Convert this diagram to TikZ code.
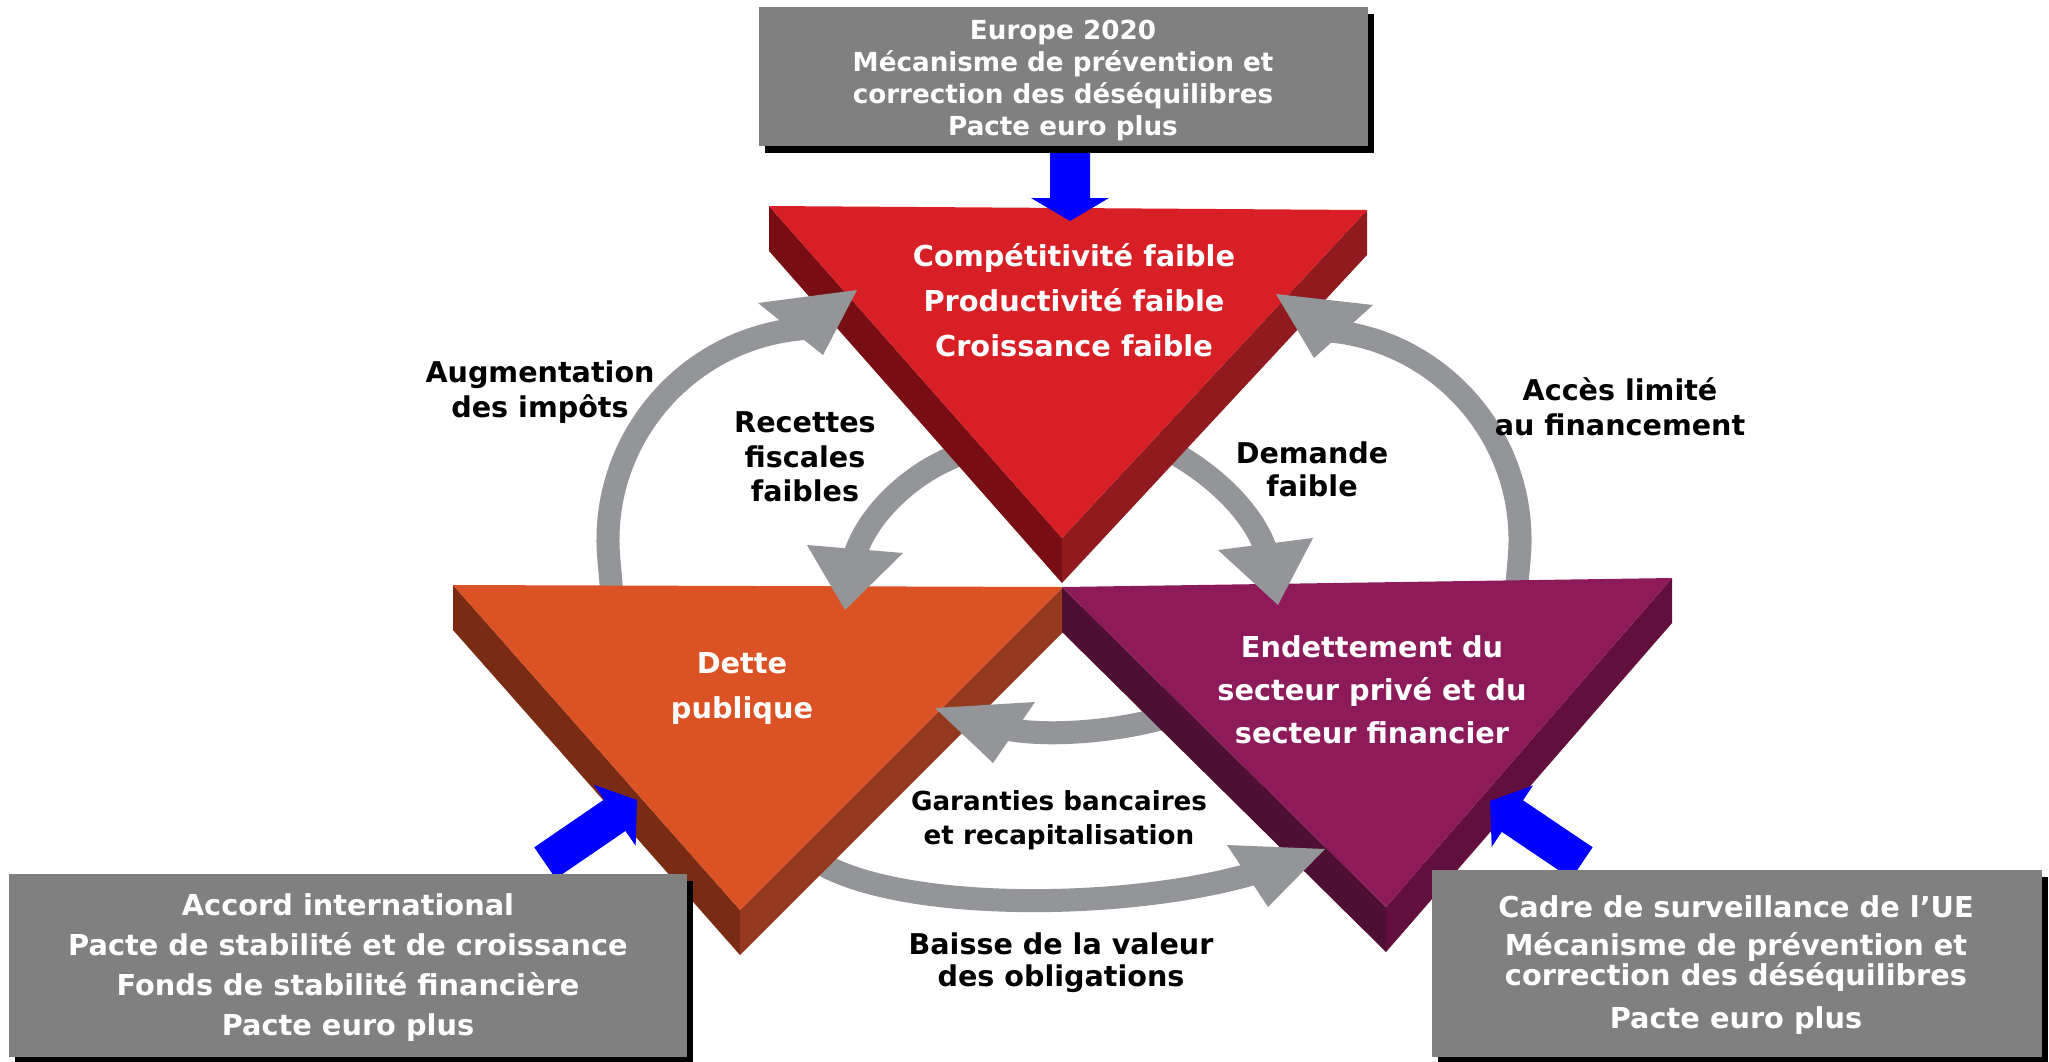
\documentclass[tikz,border=0pt]{standalone}
\usepackage{fontspec}
\setmainfont{DejaVu Sans}
\usetikzlibrary{calc,shadows}
\definecolor{redF}{HTML}{D91F26}
\definecolor{redL}{HTML}{780E13}
\definecolor{redR}{HTML}{911A1E}
\definecolor{orF}{HTML}{DB5325}
\definecolor{orL}{HTML}{7A2B14}
\definecolor{orR}{HTML}{94391E}
\definecolor{puF}{HTML}{8E1B59}
\definecolor{puL}{HTML}{4F0F32}
\definecolor{puR}{HTML}{630F3D}
\definecolor{arrgray}{HTML}{939598}
\definecolor{boxgray}{HTML}{808080}
\definecolor{arrblue}{HTML}{0000FF}

\newcommand{\prismtri}[6]{%
  \fill[#4] (#1) -- (#3) -- ($(#3)+(0,45)$) -- ($(#1)+(0,45)$) -- cycle;
  \fill[#5] (#2) -- (#3) -- ($(#3)+(0,45)$) -- ($(#2)+(0,45)$) -- cycle;
  \fill[#6] (#1) -- (#2) -- (#3) -- cycle;
}
\newcommand{\bluearrow}[5]{%
  \path ($(#2)!#5!(#1)$) coordinate (#2-base);
  \fill[arrblue] ($(#1)!#3!90:(#2)$) -- ($(#2-base)!#3!90:(#2)$) -- ($(#2-base)!#4!90:(#2)$) -- (#2)
     -- ($(#2-base)!#4!-90:(#2)$) -- ($(#2-base)!#3!-90:(#2)$) -- ($(#1)!#3!-90:(#2)$) -- cycle;
}

\begin{document}
\begin{tikzpicture}[x=1pt,y=-1pt,
  shaft/.style={draw=arrgray,line width=23pt},
  ghead/.style={fill=arrgray},
  tritext/.style={text=white,font=\bfseries\fontsize{28.8}{45}\selectfont,align=center,inner sep=0pt},
  lbl/.style={text=black,align=center,inner sep=0pt},
  gbox/.style={fill=boxgray,inner sep=0pt,anchor=north west,
    drop shadow={shadow xshift=6pt,shadow yshift=-7pt,fill=black,opacity=1}},
  boxtext/.style={text=white,align=center,inner sep=0pt},
]
\useasboundingbox (0,0) rectangle (2049,1061);
\fill[white] (0,0) rectangle (2049,1061);

% triangle corners
\coordinate (rTL) at (769,206); \coordinate (rTR) at (1367,210); \coordinate (rA) at (1062,538);
\coordinate (oTL) at (453,585); \coordinate (oTR) at (1063,587); \coordinate (oA) at (740,910);
\coordinate (pTL) at (1062,587); \coordinate (pTR) at (1672,578); \coordinate (pA) at (1386,907);

% gray arrow shafts (under the triangles)
\coordinate (a1s) at (612.3,598.3); \coordinate (a1e) at (812.6,328.1);
\draw[shaft] (a1s) -- (608.8,558.5) .. controls (598.2,437.5) and (691.2,332.4) .. (a1e);
\coordinate (a2s) at (1515.7,598.1); \coordinate (a2e) at (1317.3,330.1);
\draw[shaft] (a2s) -- (1519.2,558.3) .. controls (1529.7,438.5) and (1437.5,334.3) .. (a2e);
\coordinate (a3s) at (967,450); \coordinate (a3e) at (852,567);
\draw[shaft] (a3s) -- (949,459) .. controls (905,478) and (859.3,522.6) .. (a3e);
\coordinate (a4s) at (1162,446); \coordinate (a4e) at (1269.3,562.3);
\draw[shaft] (a4s) -- (1179,456) .. controls (1217.7,479) and (1260.3,518.2) .. (a4e);
\coordinate (a5s) at (1170,716); \coordinate (a5e) at (990.3,725.2);
\draw[shaft] (a5s) .. controls (1122.5,731) and (1038,740) .. (a5e);
\coordinate (a6s) at (815,860); \coordinate (a6e) at (1270.8,867.9);
\draw[shaft] (a6s) .. controls (900,915) and (1148,910.7) .. (a6e);

% triangles
\prismtri{oTL}{oTR}{oA}{orL}{orR}{orF}
\prismtri{pTL}{pTR}{pA}{puL}{puR}{puF}
\prismtri{rTL}{rTR}{rA}{redL}{redR}{redF}

% gray arrow heads
\fill[ghead] (857,290) -- (758,303) -- (823,355) -- cycle;
\fill[ghead] (1276,294) -- (1373,305) -- (1314,358) -- cycle;
\fill[ghead] (845,610) -- (807,545) -- (903,553) -- cycle;
\fill[ghead] (1278,605) -- (1218,550) -- (1313,538) -- cycle;
\fill[ghead] (935,708) -- (1035,702) -- (993,763) -- cycle;
\fill[ghead] (1325,849) -- (1227,845) -- (1268,907) -- cycle;

% blue arrows
\coordinate (bt1) at (1070,140); \coordinate (bt2) at (1070,221);
\bluearrow{bt1}{bt2}{20pt}{39pt}{23pt}
\coordinate (bl1) at (545,863); \coordinate (bl2) at (637,800);
\bluearrow{bl1}{bl2}{19pt}{37pt}{27pt}
\coordinate (br1) at (1582,863); \coordinate (br2) at (1490,801);
\bluearrow{br1}{br2}{19pt}{37pt}{27pt}

% boxes
\node[gbox,minimum width=609pt,minimum height=139pt] (topbox) at (759,7) {};
\node[gbox,minimum width=678pt,minimum height=183pt] (blbox) at (9,874) {};
\node[gbox,minimum width=610pt,minimum height=187pt] (brbox) at (1432,870) {};

\node[boxtext,font=\bfseries\fontsize{26.2}{32}\selectfont] (toptext) at (1063,80)
  {Europe 2020\\Mécanisme de prévention et\\correction des déséquilibres\\Pacte euro plus};
\node[boxtext,font=\bfseries\fontsize{28.8}{40}\selectfont] (bltext) at (348,968)
  {Accord international\\Pacte de stabilité et de croissance\\Fonds de stabilité financière\\Pacte euro plus};
\node[boxtext,font=\bfseries\fontsize{28.8}{30}\selectfont] (brtext) at (1736,965)
  {Cadre de surveillance de l’UE\\[8pt]Mécanisme de prévention et\\correction des déséquilibres\\[13pt]Pacte euro plus};

% triangle texts
\node[tritext] (redtext) at (1074,300) {Compétitivité faible\\Productivité faible\\Croissance faible};
\node[tritext] (ortext) at (742,688) {Dette\\publique};
\node[tritext,font=\bfseries\fontsize{28.8}{43}\selectfont] (putext) at (1372,690)
  {Endettement du\\secteur privé et du\\secteur financier};

% labels
\node[lbl,font=\bfseries\fontsize{28.6}{35}\selectfont] (l1) at (540,392) {Augmentation\\des impôts};
\node[lbl,font=\bfseries\fontsize{28.6}{34.5}\selectfont] (l2) at (805,457) {Recettes\\fiscales\\faibles};
\node[lbl,font=\bfseries\fontsize{28.6}{33}\selectfont] (l3) at (1312,469) {Demande\\faible};
\node[lbl,font=\bfseries\fontsize{28.6}{35}\selectfont] (l4) at (1620,407) {Accès limité\\au financement};
\node[lbl,font=\bfseries\fontsize{26.2}{34}\selectfont] (l5) at (1059,820) {Garanties bancaires\\et recapitalisation};
\node[lbl,font=\bfseries\fontsize{28.6}{32}\selectfont] (l6) at (1061,963) {Baisse de la valeur\\des obligations};
\end{tikzpicture}
\end{document}
